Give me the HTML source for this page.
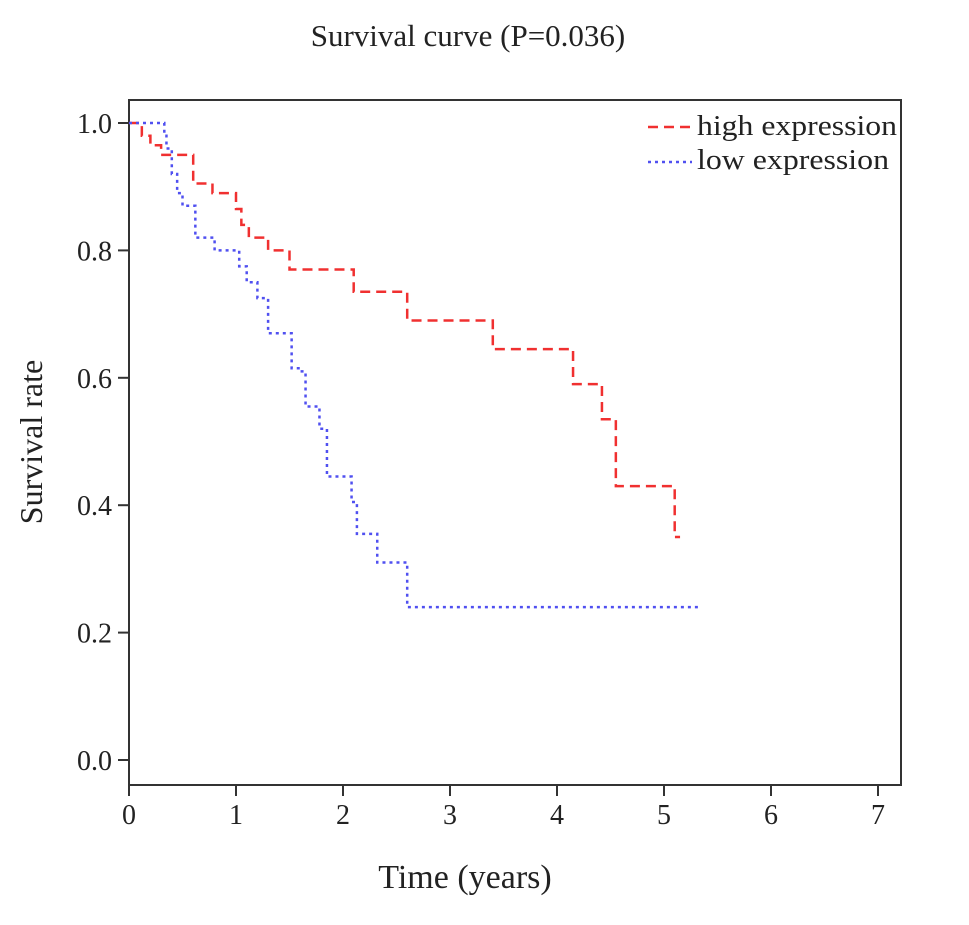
<!DOCTYPE html>
<html><head><meta charset="utf-8"><style>
body{margin:0;background:#fff}
svg text{font-family:"Liberation Serif",serif;fill:#222}
</style></head><body>
<svg width="969" height="920">
<text x="468" y="46" font-size="31" text-anchor="middle">Survival curve (P=0.036)</text>
<rect x="129" y="100" width="772" height="685" fill="none" stroke="#333" stroke-width="2"/>
<g id="axes"></g>
<g id="series"></g>
<text x="465" y="888" font-size="34" text-anchor="middle">Time  (years)</text>
<text transform="translate(42,442) rotate(-90)" font-size="32" text-anchor="middle">Survival rate</text>
<g>
<line x1="648" y1="127" x2="692" y2="127" stroke="#f03030" stroke-width="2.5" stroke-dasharray="10,6"/>
<text x="697" y="135" font-size="29" textLength="200" lengthAdjust="spacingAndGlyphs">high expression</text>
<line x1="648" y1="162" x2="692" y2="162" stroke="#5050f0" stroke-width="2.5" stroke-dasharray="3,4"/>
<text x="697" y="169" font-size="29" textLength="192" lengthAdjust="spacingAndGlyphs">low expression</text>
</g>
</svg>
<script>
const xTicks=[0,1,2,3,4,5,6,7];
const yTicks=[0.0,0.2,0.4,0.6,0.8,1.0];
const highTimes=[0,0.12,0.2,0.3,0.6,0.78,1.0,1.05,1.12,1.3,1.5,2.1,2.6,3.4,4.15,4.42,4.55,5.1,5.15];
const highSurv=[1.0,0.98,0.965,0.95,0.905,0.89,0.865,0.84,0.82,0.8,0.77,0.735,0.69,0.645,0.59,0.535,0.43,0.35,0.35];
const lowTimes=[0,0.33,0.35,0.4,0.45,0.5,0.62,0.8,1.03,1.1,1.2,1.3,1.52,1.6,1.65,1.78,1.85,2.08,2.13,2.32,2.6,5.32];
const lowSurv=[1.0,0.98,0.96,0.92,0.89,0.87,0.82,0.8,0.775,0.75,0.725,0.67,0.615,0.61,0.555,0.52,0.445,0.405,0.355,0.31,0.24,0.24];
const X=t=>129+t*107, Y=s=>760-s*637;
const NS='http://www.w3.org/2000/svg';
const ax=document.getElementById('axes'), se=document.getElementById('series');
function mk(tag,attrs,parent){const e=document.createElementNS(NS,tag);for(const k in attrs)e.setAttribute(k,attrs[k]);parent.appendChild(e);return e;}
xTicks.forEach(t=>{
 const l=mk('line',{x1:X(t),x2:X(t),y1:785,y2:796,stroke:'#333','stroke-width':2},ax);
 
 
 const tx=mk('text',{x:X(t),y:824,'font-size':28,'text-anchor':'middle'},ax);tx.textContent=t;
 
 
});
yTicks.forEach(v=>{
 const l=mk('line',{x1:118,x2:129,y1:Y(v),y2:Y(v),stroke:'#333','stroke-width':2},ax);
 
 
 const tx=mk('text',{x:112,y:Y(v)+10,'font-size':28,'text-anchor':'end'},ax);tx.textContent=v.toFixed(1);
 
 
});
function step(ts,ss){let d='M'+X(ts[0])+','+Y(ss[0]);for(let i=1;i<ts.length;i++){d+=' H'+X(ts[i])+' V'+Y(ss[i]);}return d;}
const h=mk('path',{d:step(highTimes,highSurv),fill:'none',stroke:'#f03030','stroke-width':2.5,'stroke-dasharray':'10,6'},se);


const lo=mk('path',{d:step(lowTimes,lowSurv),fill:'none',stroke:'#5050f0','stroke-width':2.5,'stroke-dasharray':'3,4'},se);


</script>
</body></html>
